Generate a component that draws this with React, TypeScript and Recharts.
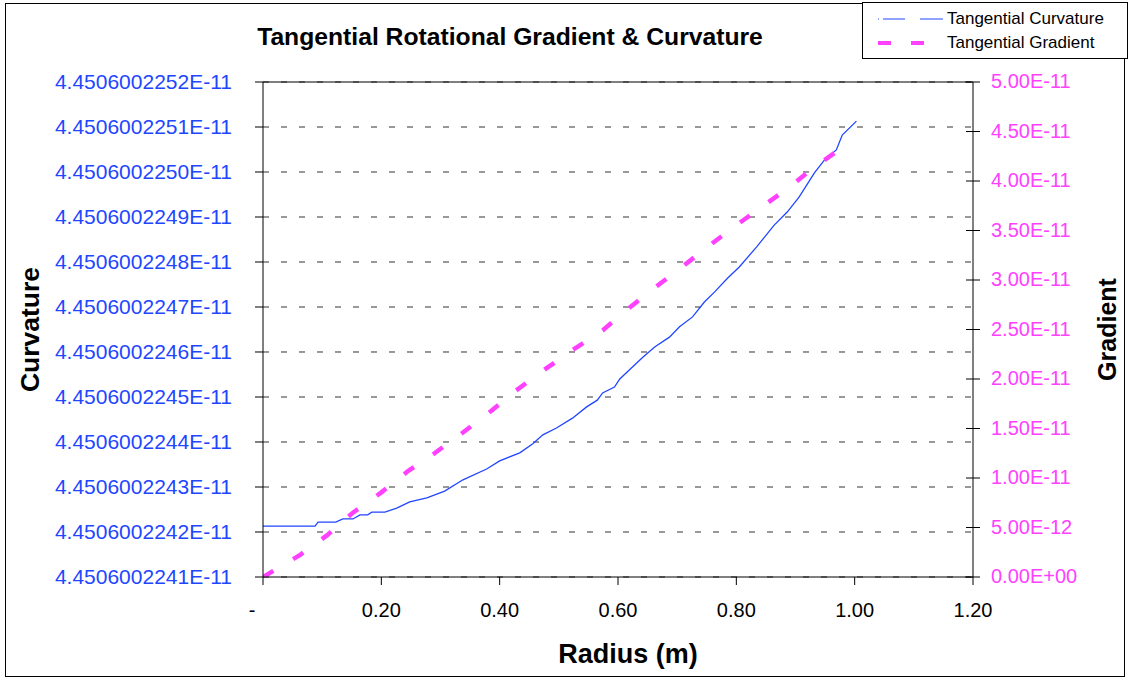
import { LineChart, Line, XAxis, YAxis, CartesianGrid, Legend, ReferenceLine, Label } from "recharts";

const radiusTicks = [0, 0.2, 0.4, 0.6, 0.8, 1.0, 1.2];
const curvatureTicks = [
  4.4506002241e-11, 4.4506002242e-11, 4.4506002243e-11, 4.4506002244e-11,
  4.4506002245e-11, 4.4506002246e-11, 4.4506002247e-11, 4.4506002248e-11,
  4.4506002249e-11, 4.450600225e-11, 4.4506002251e-11, 4.4506002252e-11,
];
const gradientTicks = [0, 0.5e-11, 1e-11, 1.5e-11, 2e-11, 2.5e-11, 3e-11, 3.5e-11, 4e-11, 4.5e-11, 5e-11];

// Tangential Curvature
const curvatureRadius = [
  0, 0.088, 0.093, 0.123, 0.135, 0.152, 0.164, 0.177, 0.184, 0.206, 0.226, 0.248, 0.277, 0.307,
  0.338, 0.378, 0.4, 0.434, 0.456, 0.473, 0.496, 0.523, 0.547, 0.565, 0.574, 0.594, 0.603, 0.641,
  0.662, 0.687, 0.704, 0.726, 0.746, 0.763, 0.785, 0.805, 0.834, 0.864, 0.886, 0.906, 0.932, 0.949,
  0.969, 0.979, 1.003,
];
const curvatureValues = [
  4.450600224213e-11, 4.450600224213e-11, 4.450600224222e-11, 4.450600224222e-11, 4.450600224229e-11,
  4.450600224229e-11, 4.450600224238e-11, 4.450600224238e-11, 4.450600224244e-11, 4.450600224244e-11,
  4.450600224253e-11, 4.450600224267e-11, 4.450600224276e-11, 4.450600224291e-11, 4.450600224316e-11,
  4.45060022434e-11, 4.450600224358e-11, 4.450600224376e-11, 4.450600224396e-11, 4.450600224416e-11,
  4.450600224431e-11, 4.450600224453e-11, 4.450600224478e-11, 4.450600224493e-11, 4.450600224509e-11,
  4.450600224522e-11, 4.45060022454e-11, 4.450600224587e-11, 4.450600224611e-11, 4.450600224633e-11,
  4.450600224656e-11, 4.450600224678e-11, 4.450600224711e-11, 4.450600224733e-11, 4.450600224764e-11,
  4.450600224789e-11, 4.450600224833e-11, 4.450600224882e-11, 4.450600224911e-11, 4.450600224944e-11,
  4.450600224998e-11, 4.450600225027e-11, 4.450600225049e-11, 4.450600225082e-11, 4.450600225113e-11,
];

// Tangential Gradient
const gradientRadius = [
  0, 0.062, 0.108, 0.152, 0.199, 0.245, 0.29, 0.338, 0.386, 0.427, 0.47, 0.52, 0.574, 0.613, 0.657,
  0.704, 0.748, 0.797, 0.841, 0.888, 0.932, 0.977, 0.99,
];
const gradientValues = [
  0, 0.22e-11, 0.42e-11, 0.65e-11, 0.85e-11, 1.07e-11, 1.25e-11, 1.46e-11, 1.68e-11, 1.88e-11, 2.07e-11,
  2.28e-11, 2.49e-11, 2.69e-11, 2.9e-11, 3.11e-11, 3.32e-11, 3.54e-11, 3.73e-11, 3.93e-11, 4.14e-11,
  4.33e-11, 4.38e-11,
];

const curvatureData = curvatureRadius.map((r, i) => ({ r, v: curvatureValues[i] }));
const gradientData = gradientRadius.map((r, i) => ({ r, g: gradientValues[i] }));

const BLUE = "#2146FF";
const MAGENTA = "#FF40FF";

const fmtCurvature = (v: number) => v.toExponential(10).toUpperCase();
const fmtGradient = (v: number) => {
  const [m, e] = v.toExponential(2).split("e");
  const n = parseInt(e, 10);
  return `${m}E${n < 0 ? "-" : "+"}${String(Math.abs(n)).padStart(2, "0")}`;
};
const fmtRadius = (v: number) => (v === 0 ? "-" : v.toFixed(2));

function RadiusTick(props: any) {
  const { x, y, payload } = props;
  const zero = payload.value === 0;
  return (
    <text x={zero ? x - 11 : x} y={y} dy="0.71em" fill="#000" fontSize={20} textAnchor="middle">
      {fmtRadius(payload.value)}
    </text>
  );
}

function GradientTick(props: any) {
  const { x, y, payload } = props;
  const axisX = x - 18;
  return (
    <g>
      <line x1={axisX - 7} x2={axisX} y1={y} y2={y} stroke="#000" />
      <text x={x} y={y} dy="0.3em" fill={MAGENTA} fontSize={20} textAnchor="start">
        {fmtGradient(payload.value)}
      </text>
    </g>
  );
}

function LegendBox(props: any) {
  const items = props.payload || [];
  return (
    <div
      style={{
        width: 266,
        height: 57,
        boxSizing: "border-box",
        border: "1px solid #000",
        background: "#fff",
        paddingTop: 4,
      }}
    >
      {items.map((entry: any) => {
        const isGrad = entry.dataKey === "g";
        return (
          <div key={entry.value} style={{ display: "flex", alignItems: "center", height: 24 }}>
            <svg width={84} height={20}>
              {isGrad ? (
                <line x1={15} x2={61} y1={10} y2={10} stroke={MAGENTA} strokeWidth={4} strokeDasharray="13 20" />
              ) : (
                <line x1={15} x2={80} y1={10} y2={10} stroke={BLUE} strokeWidth={1.2} strokeDasharray="1 4 22 15 23" />
              )}
            </svg>
            <span style={{ fontSize: 17, color: "#000" }}>{entry.value}</span>
          </div>
        );
      })}
    </div>
  );
}

export default function App() {
  return (
    <div
      style={{
        position: "absolute",
        left: 0,
        top: 0,
        width: 1129,
        height: 679,
        fontFamily: "'Liberation Sans', Arial, sans-serif",
        background: "#fff",
      }}
    >
      <div
        style={{
          position: "absolute",
          left: 5,
          top: 3,
          width: 1120,
          height: 674,
          boxSizing: "border-box",
          border: "1px solid #000",
        }}
      />
      <div
        style={{
          position: "absolute",
          left: 210,
          width: 600,
          top: 23,
          textAlign: "center",
          fontWeight: "bold",
          fontSize: 24.7,
        }}
      >
        Tangential Rotational Gradient &amp; Curvature
      </div>
      <LineChart width={1129} height={679} margin={{ top: 82, right: 0, bottom: 0, left: 0 }}>
        <CartesianGrid yAxisId="left" vertical={false} stroke="#333" strokeDasharray="6 12" />
        <XAxis
          dataKey="r"
          type="number"
          domain={[0, 1.2]}
          ticks={radiusTicks}
          height={102}
          axisLine={{ stroke: "#000" }}
          tickLine={{ stroke: "#000" }}
          tickSize={8}
          tickMargin={18}
          tick={<RadiusTick />}
          allowDataOverflow
          interval={0}
        >
          <Label value="Radius (m)" position="insideBottom" offset={16} dx={10} fontSize={27} fontWeight="bold" fill="#000" />
        </XAxis>
        <YAxis
          yAxisId="left"
          type="number"
          domain={[curvatureTicks[0], curvatureTicks[curvatureTicks.length - 1]]}
          ticks={curvatureTicks}
          tickFormatter={fmtCurvature}
          width={263}
          axisLine={{ stroke: "#000" }}
          tickLine={{ stroke: "#000" }}
          tickSize={8}
          tickMargin={23}
          tick={{ fill: BLUE, fontSize: 21 }}
          allowDataOverflow
          interval={0}
        >
          <Label
            value="Curvature"
            position="insideLeft"
            offset={30}
            angle={-90}
            fontSize={26.5}
            fontWeight="bold"
            fill="#000"
            style={{ textAnchor: "middle" }}
          />
        </YAxis>
        <YAxis
          yAxisId="right"
          orientation="right"
          type="number"
          domain={[0, 5e-11]}
          ticks={gradientTicks}
          width={156}
          axisLine={{ stroke: "#000" }}
          tickLine={{ stroke: "#000" }}
          tickSize={7}
          tickMargin={11}
          tick={<GradientTick />}
          allowDataOverflow
          interval={0}
        >
          <Label
            value="Gradient"
            position="insideRight"
            offset={22}
            angle={-90}
            fontSize={25}
            fontWeight="bold"
            fill="#000"
            style={{ textAnchor: "middle" }}
          />
        </YAxis>
        <ReferenceLine yAxisId="left" y={curvatureTicks[curvatureTicks.length - 1]} stroke="#000" />
        <Legend
          layout="horizontal"
          align="center"
          verticalAlign="middle"
          wrapperStyle={{ left: 862, top: 2, width: 266, height: 57 }}
          content={<LegendBox />}
        />
        <Line
          yAxisId="left"
          data={curvatureData}
          dataKey="v"
          name="Tangential Curvature"
          type="linear"
          stroke={BLUE}
          strokeWidth={1.3}
          dot={false}
          isAnimationActive={false}
        />
        <Line
          yAxisId="right"
          data={gradientData}
          dataKey="g"
          name="Tangential Gradient"
          type="linear"
          stroke={MAGENTA}
          strokeWidth={4.5}
          strokeDasharray="12 23"
          dot={false}
          isAnimationActive={false}
        />
      </LineChart>
    </div>
  );
}
